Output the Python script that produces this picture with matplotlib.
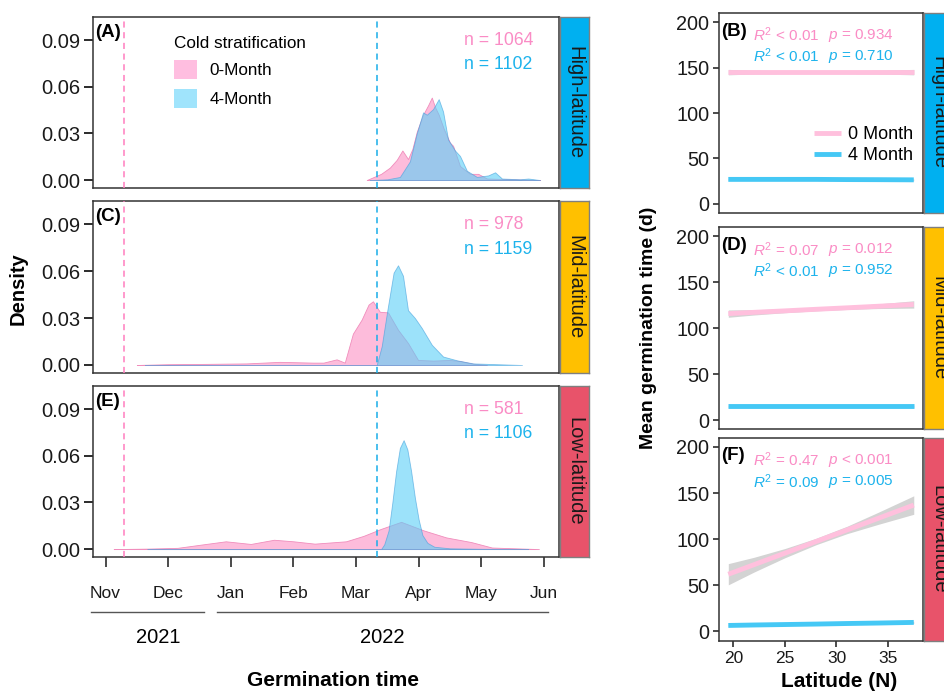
import matplotlib
matplotlib.use('Agg')
import matplotlib.pyplot as plt
import matplotlib.transforms as mtransforms
from matplotlib.patches import Patch

plt.rcParams['font.family'] = ['Liberation Sans', 'DejaVu Sans']
plt.rcParams['mathtext.fontset'] = 'custom'
plt.rcParams['mathtext.rm'] = 'Liberation Sans'
plt.rcParams['mathtext.it'] = 'Liberation Sans:italic'

# ---- data ----
months = ['Nov', 'Dec', 'Jan', 'Feb', 'Mar', 'Apr', 'May', 'Jun']
years = ['2021', '2022']
regions = ['High-latitude', 'Mid-latitude', 'Low-latitude']
n_0m = [1064, 978, 581]
n_4m = [1102, 1159, 1106]

# sowing dates in months since 1 Nov 2021
sow_0m = 0.30
sow_4m = 4.33

# germination time density, x in months since 1 Nov 2021
hi_0m_x = [4.17, 4.40, 4.54, 4.65, 4.74, 4.83, 4.90, 4.97, 5.07, 5.15, 5.21, 5.26, 5.32, 5.40,
           5.50, 5.55, 5.66, 5.82, 5.95, 6.09, 6.50, 6.94]
hi_0m_y = [0.0, 0.004, 0.008, 0.013, 0.019, 0.0135, 0.020, 0.031, 0.042, 0.048, 0.053, 0.047, 0.042, 0.033,
           0.024, 0.022, 0.009, 0.004, 0.004, 0.001, 0.0005, 0.0]
hi_4m_x = [4.22, 4.50, 4.70, 4.86, 4.97, 5.07, 5.13, 5.23, 5.32, 5.39, 5.47, 5.58, 5.66, 5.77, 5.93,
           6.11, 6.22, 6.33, 6.62, 6.75, 6.94]
hi_4m_y = [0.0, 0.0005, 0.002, 0.012, 0.030, 0.0435, 0.042, 0.0456, 0.052, 0.044, 0.026, 0.019, 0.0155,
           0.006, 0.002, 0.003, 0.005, 0.001, 0.0005, 0.001, 0.0]

mid_0m_x = [0.50, 1.0, 1.6, 2.25, 2.78, 3.32, 3.48, 3.69, 3.82, 3.95, 4.09, 4.20, 4.27, 4.38, 4.51, 4.67,
            4.83, 4.99, 5.23, 5.50, 5.66, 5.87, 6.09]
mid_0m_y = [0.0, 0.0005, 0.0007, 0.001, 0.002, 0.0015, 0.0015, 0.0036, 0.0015, 0.020, 0.029, 0.0386, 0.0407,
            0.034, 0.0336, 0.0225, 0.014, 0.0032, 0.0028, 0.0032, 0.0025, 0.0008, 0.0]
mid_4m_x = [0.63, 4.33, 4.41, 4.50, 4.60, 4.67, 4.75, 4.83, 4.94, 5.05, 5.21, 5.39, 5.61, 5.87, 6.65]
mid_4m_y = [0.0, 0.0, 0.012, 0.035, 0.059, 0.0637, 0.057, 0.035, 0.030, 0.0236, 0.0129, 0.0054, 0.003,
            0.001, 0.0]

low_0m_x = [0.13, 0.67, 1.15, 1.55, 1.92, 2.32, 2.69, 3.00, 3.34, 3.84, 4.12, 4.40, 4.72, 5.08, 5.44,
            5.84, 6.17, 6.92]
low_0m_y = [0.0, 0.0003, 0.0008, 0.003, 0.005, 0.0033, 0.006, 0.005, 0.0035, 0.005, 0.0085, 0.013, 0.0175,
            0.012, 0.0075, 0.0045, 0.001, 0.0]
low_4m_x = [0.67, 4.40, 4.45, 4.52, 4.58, 4.64, 4.70, 4.76, 4.82, 4.88, 4.94, 5.00, 5.06, 5.14, 5.25,
            5.50, 6.00, 6.75]
low_4m_y = [0.0, 0.0, 0.003, 0.012, 0.030, 0.050, 0.065, 0.070, 0.064, 0.050, 0.033, 0.019, 0.009, 0.004,
            0.0015, 0.0005, 0.0002, 0.0]

dens_x = [(hi_0m_x, hi_4m_x), (mid_0m_x, mid_4m_x), (low_0m_x, low_4m_x)]
dens_y = [(hi_0m_y, hi_4m_y), (mid_0m_y, mid_4m_y), (low_0m_y, low_4m_y)]

# mean germination time vs latitude (fit + 95% CI)
lat = [19.5, 22, 25, 28, 31, 34, 37.5]
hi_0m_fit = [145, 145, 145, 145, 145, 145, 145]
hi_0m_lo = [142, 143, 143.5, 144, 143.5, 143, 142]
hi_0m_hi = [148, 147, 146.5, 146, 146.5, 147, 148]
hi_4m_fit = [27, 27, 27, 27, 26.8, 26.7, 26.5]
hi_4m_lo = [26, 26.2, 26.3, 26.4, 26.2, 26, 25.5]
hi_4m_hi = [28, 27.8, 27.7, 27.6, 27.4, 27.4, 27.5]
mid_0m_fit = [116, 117.4, 119, 120.7, 122.3, 124, 126]
mid_0m_lo = [112, 114.5, 117, 119, 120.5, 121.5, 122]
mid_0m_hi = [120, 120.3, 121, 122.4, 124.1, 126.5, 130]
mid_4m_fit = [15, 15, 15, 15, 15, 15, 15]
mid_4m_lo = [14, 14.3, 14.5, 14.6, 14.5, 14.3, 14]
mid_4m_hi = [16, 15.7, 15.5, 15.4, 15.5, 15.7, 16]
low_0m_fit = [62, 72.4, 84.9, 97.4, 109.9, 122.4, 137]
low_0m_lo = [50.5, 64.4, 79.9, 93.9, 105.9, 115.9, 127]
low_0m_hi = [73.5, 80.4, 89.9, 100.9, 113.9, 128.9, 147]
low_4m_fit = [6.5, 7.0, 7.5, 8.0, 8.6, 9.1, 9.8]
low_4m_lo = [5.5, 6.2, 6.9, 7.5, 8.0, 8.3, 8.6]
low_4m_hi = [7.5, 7.8, 8.1, 8.5, 9.2, 9.9, 11.0]

fits = [(hi_0m_fit, hi_4m_fit), (mid_0m_fit, mid_4m_fit), (low_0m_fit, low_4m_fit)]
los = [(hi_0m_lo, hi_4m_lo), (mid_0m_lo, mid_4m_lo), (low_0m_lo, low_4m_lo)]
his = [(hi_0m_hi, hi_4m_hi), (mid_0m_hi, mid_4m_hi), (low_0m_hi, low_4m_hi)]

stats_0m = [(r'$R^2$ < 0.01', r'$p$ = 0.934'), (r'$R^2$ = 0.07', r'$p$ = 0.012'), (r'$R^2$ = 0.47', r'$p$ < 0.001')]
stats_4m = [(r'$R^2$ < 0.01', r'$p$ = 0.710'), (r'$R^2$ < 0.01', r'$p$ = 0.952'), (r'$R^2$ = 0.09', r'$p$ = 0.005')]

# ---- styles ----
strip_colors = ['#00B0F0', '#FFC000', '#E8536A']
pink_fill, blue_fill = '#FDBCDB', '#5ACFF7'
pink_edge, blue_edge = '#F08DBC', '#3F9EDC'
pink_txt, blue_txt = '#FA8CC5', '#1DB3EC'
pink_line, blue_line = '#FFC0DD', '#45C8F5'
spine_col = '#333333'

fig = plt.figure(figsize=(9.44, 6.93), dpi=100)

left_rects = [(0.0985, 0.7287, 0.4936, 0.2468), (0.0985, 0.4618, 0.4936, 0.2482), (0.0985, 0.1962, 0.4936, 0.2468)]
right_rects = [(0.7617, 0.6926, 0.2161, 0.2886), (0.7617, 0.3805, 0.2161, 0.2915), (0.7617, 0.0755, 0.2161, 0.2929)]
left_tags = ['(A)', '(C)', '(E)']
right_tags = ['(B)', '(D)', '(F)']


def add_strip(rect, color, label):
    x, y, w, h = rect
    sax = fig.add_axes([x + w + 0.001, y, 0.031, h])
    sax.set_facecolor(color)
    sax.set_xticks([])
    sax.set_yticks([])
    for s in sax.spines.values():
        s.set_color('#7F7F7F')
        s.set_linewidth(1.0)
    sax.text(0.5, 0.5, label, rotation=-90, ha='center', va='center', fontsize=14.5,
             color='#1A1A1A', transform=sax.transAxes)


for i in range(3):
    ax = fig.add_axes(left_rects[i])
    (x0, x4), (y0, y4) = dens_x[i], dens_y[i]
    ax.fill_between(x0, y0, 0, facecolor=pink_fill, edgecolor=pink_edge, linewidth=0.6, zorder=2)
    ax.fill_between(x4, y4, 0, facecolor=blue_fill, alpha=0.6, edgecolor=blue_edge, linewidth=0.6, zorder=3)
    ax.axvline(sow_0m, color='#FF7DBE', linestyle=(0, (4, 3)), linewidth=1.1, zorder=4)
    ax.axvline(sow_4m, color='#19ADE8', linestyle=(0, (4, 3)), linewidth=1.1, zorder=4)
    ax.set_xlim(-0.20, 7.24)
    ax.set_ylim(-0.0051, 0.1048)
    ax.set_yticks([0.0, 0.03, 0.06, 0.09])
    ax.set_yticklabels(['0.00', '0.03', '0.06', '0.09'])
    ax.tick_params(axis='y', labelsize=14.5, length=6.5, width=1.3, pad=2.5, colors='#1A1A1A')
    for s in ax.spines.values():
        s.set_color(spine_col)
        s.set_linewidth(1.1)
    if i < 2:
        ax.set_xticks([])
    else:
        ax.set_xticks(range(len(months)))
        ax.set_xticklabels(months)
        ax.tick_params(axis='x', labelsize=12.5, length=7, width=1.1, pad=14, colors='#1A1A1A')
    ax.text(0.004, 0.91, left_tags[i], transform=ax.transAxes, fontsize=13.5, fontweight='bold',
            ha='left', va='center')
    ax.text(0.796, 0.865, f'n = {n_0m[i]}', transform=ax.transAxes, color=pink_txt, fontsize=12.7,
            ha='left', va='center')
    ax.text(0.796, 0.72, f'n = {n_4m[i]}', transform=ax.transAxes, color=blue_txt, fontsize=12.7,
            ha='left', va='center')
    if i == 0:
        handles = [Patch(facecolor='#FFBEE0', edgecolor='none'), Patch(facecolor='#A0E4FC', edgecolor='none')]
        ax.legend(handles, ['0-Month', '4-Month'], title='Cold stratification', loc='upper left',
                  bbox_to_anchor=(0.155, 0.94), frameon=False, fontsize=12.3, title_fontsize=12.3,
                  handlelength=1.35, handleheight=1.35, labelspacing=0.55, borderpad=0,
                  handletextpad=0.75, alignment='left')
    if i == 2:
        trans = mtransforms.blended_transform_factory(ax.transData, ax.transAxes)
        ax.plot([-0.235, 1.57], [-0.322, -0.322], color='#555555', lw=1.0, transform=trans, clip_on=False)
        ax.plot([1.78, 7.07], [-0.322, -0.322], color='#555555', lw=1.0, transform=trans, clip_on=False)
        ax.text(0.835, -0.468, years[0], transform=trans, ha='center', va='center', fontsize=14.5)
        ax.text(4.42, -0.468, years[1], transform=trans, ha='center', va='center', fontsize=14.5)
    add_strip(left_rects[i], strip_colors[i], regions[i])

for i in range(3):
    ax = fig.add_axes(right_rects[i])
    (f0, f4), (l0, l4), (h0, h4) = fits[i], los[i], his[i]
    ax.fill_between(lat, l0, h0, color='#D3D3D3', lw=0, zorder=1)
    ax.fill_between(lat, l4, h4, color='#D3D3D3', lw=0, zorder=1)
    ax.plot(lat, f0, color=pink_line, lw=3.5, solid_capstyle='butt', zorder=2, label='0 Month')
    ax.plot(lat, f4, color=blue_line, lw=3.5, solid_capstyle='butt', zorder=2, label='4 Month')
    ax.set_xlim(18.6, 38.4)
    ax.set_ylim(-10, 210)
    ax.set_yticks([0, 50, 100, 150, 200])
    ax.tick_params(axis='y', labelsize=14.3, length=4.5, width=1.1, pad=2.5, colors='#1A1A1A')
    for s in ax.spines.values():
        s.set_color(spine_col)
        s.set_linewidth(1.1)
    if i < 2:
        ax.set_xticks([])
    else:
        ax.set_xticks([20, 25, 30, 35])
        ax.tick_params(axis='x', labelsize=12.5, length=4.5, width=1.1, pad=3, colors='#1A1A1A')
    ax.text(0.01, 0.91, right_tags[i], transform=ax.transAxes, fontsize=13.5, fontweight='bold',
            ha='left', va='center')
    ax.text(0.165, 0.89, stats_0m[i][0], transform=ax.transAxes, color=pink_txt, fontsize=11, va='center')
    ax.text(0.535, 0.89, stats_0m[i][1], transform=ax.transAxes, color=pink_txt, fontsize=11, va='center')
    ax.text(0.165, 0.785, stats_4m[i][0], transform=ax.transAxes, color=blue_txt, fontsize=11, va='center')
    ax.text(0.535, 0.785, stats_4m[i][1], transform=ax.transAxes, color=blue_txt, fontsize=11, va='center')
    if i == 0:
        ax.legend(loc='center left', bbox_to_anchor=(0.42, 0.34), frameon=False, fontsize=13,
                  handlelength=1.5, handletextpad=0.4, labelspacing=0.2, borderpad=0)
    add_strip(right_rects[i], strip_colors[i], regions[i])

fig.text(0.019, 0.583, 'Density', rotation=90, fontsize=14.5, fontweight='bold', ha='center', va='center')
fig.text(0.353, 0.018, 'Germination time', fontsize=15, fontweight='bold', ha='center', va='center')
fig.text(0.687, 0.527, 'Mean germination time (d)', rotation=90, fontsize=14, fontweight='bold',
         ha='center', va='center')
fig.text(0.889, 0.016, 'Latitude (N)', fontsize=15, fontweight='bold', ha='center', va='center')

fig.savefig('out.png', dpi=100)
